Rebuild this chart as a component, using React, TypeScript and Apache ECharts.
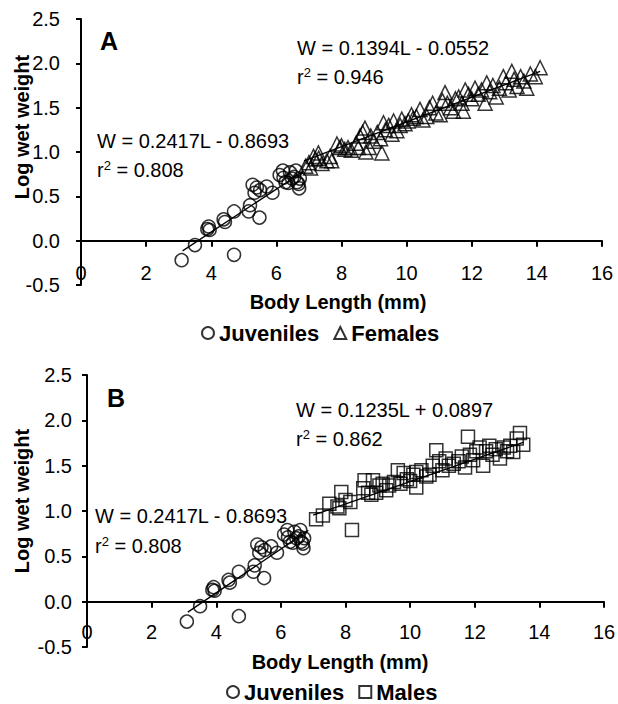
import React, { useEffect, useRef } from "react";
import * as echarts from "echarts";

// Body length (mm), log wet weight
const juveniles: number[][] = [
  [3.09, -0.22], [3.5, -0.05], [3.88, 0.13], [3.92, 0.16], [3.95, 0.12],
  [4.38, 0.24], [4.42, 0.21], [4.7, 0.33], [4.7, -0.16], [5.15, 0.33],
  [5.19, 0.4], [5.27, 0.63], [5.33, 0.54], [5.4, 0.6], [5.48, 0.26],
  [5.5, 0.57], [5.7, 0.61], [5.88, 0.54], [6.1, 0.74], [6.2, 0.79],
  [6.22, 0.71], [6.28, 0.66], [6.37, 0.65], [6.42, 0.77], [6.48, 0.7],
  [6.55, 0.72], [6.6, 0.79], [6.63, 0.66], [6.68, 0.64], [6.7, 0.59],
  [6.72, 0.7],
];

const females: number[][] = [
  [6.9, 0.84], [7.0, 0.88], [7.05, 0.82], [7.14, 0.95], [7.2, 0.92],
  [7.29, 0.99], [7.3, 0.93], [7.4, 0.87], [7.55, 0.9], [7.65, 0.95],
  [7.7, 0.9], [7.86, 1.09], [7.95, 1.05], [8.0, 1.07], [8.1, 1.03],
  [8.2, 1.05], [8.3, 1.02], [8.45, 1.1], [8.52, 1.05], [8.57, 1.18],
  [8.65, 1.22], [8.72, 1.27], [8.75, 1.0], [8.85, 1.05], [8.9, 1.18],
  [9.0, 1.12], [9.1, 1.22], [9.2, 1.15], [9.24, 0.99], [9.29, 1.33],
  [9.35, 1.25], [9.45, 1.3], [9.55, 1.2], [9.6, 1.35], [9.7, 1.24],
  [9.8, 1.3], [9.85, 1.37], [9.95, 1.32], [10.05, 1.35], [10.15, 1.42],
  [10.2, 1.38], [10.3, 1.4], [10.41, 1.48], [10.5, 1.36], [10.62, 1.4],
  [10.7, 1.5], [10.8, 1.55], [10.9, 1.44], [11.03, 1.42], [11.1, 1.58],
  [11.18, 1.67], [11.25, 1.55], [11.35, 1.5], [11.44, 1.46], [11.5, 1.6],
  [11.6, 1.62], [11.7, 1.55], [11.74, 1.46], [11.8, 1.7], [11.9, 1.65],
  [12.0, 1.6], [12.1, 1.72], [12.2, 1.65], [12.3, 1.7], [12.41, 1.55],
  [12.46, 1.78], [12.55, 1.68], [12.65, 1.75], [12.75, 1.62], [12.85, 1.72],
  [12.97, 1.85], [13.05, 1.78], [13.15, 1.7], [13.23, 1.91], [13.3, 1.82],
  [13.39, 1.74], [13.5, 1.85], [13.6, 1.8], [13.69, 1.72], [13.8, 1.88],
  [13.95, 1.85], [14.1, 1.95],
];

const males: number[][] = [
  [7.09, 0.91], [7.3, 0.95], [7.5, 1.08], [7.75, 1.05], [7.81, 1.03],
  [7.87, 1.21], [8.0, 1.12], [8.15, 1.1], [8.2, 0.79], [8.55, 1.25],
  [8.59, 1.34], [8.7, 1.2], [8.8, 1.18], [8.85, 1.34], [8.95, 1.2],
  [9.05, 1.28], [9.15, 1.3], [9.26, 1.23], [9.35, 1.28], [9.5, 1.32],
  [9.62, 1.45], [9.7, 1.3], [9.8, 1.42], [9.9, 1.35], [10.0, 1.33],
  [10.1, 1.4], [10.19, 1.43], [10.19, 1.26], [10.35, 1.45], [10.5, 1.38],
  [10.6, 1.4], [10.7, 1.5], [10.81, 1.67], [10.9, 1.55], [11.0, 1.45],
  [11.1, 1.58], [11.2, 1.5], [11.35, 1.52], [11.5, 1.55], [11.6, 1.6],
  [11.7, 1.48], [11.79, 1.82], [11.85, 1.62], [11.95, 1.56], [12.05, 1.66],
  [12.15, 1.7], [12.26, 1.5], [12.35, 1.66], [12.45, 1.72], [12.55, 1.62],
  [12.65, 1.68], [12.78, 1.58], [12.9, 1.7], [13.0, 1.66], [13.1, 1.72],
  [13.19, 1.65], [13.3, 1.8], [13.4, 1.86], [13.5, 1.73],
];

// regression: [slope, intercept], range: [from, to]
const juvenileFit = [0.2417, -0.8693];
const juvenileRange = [3.12, 6.85];
const femaleFit = [0.1394, -0.0552];
const femaleRange = [6.85, 14.1];
const maleFit = [0.1235, 0.0897];
const maleRange = [7.0, 13.5];

const equationJuv = "W = 0.2417L - 0.8693";
const r2Juv = "0.808";
const equationFem = "W = 0.1394L - 0.0552";
const r2Fem = "0.946";
const equationMale = "W = 0.1235L + 0.0897";
const r2Male = "0.862";

const FONT = "Liberation Sans, Arial, Helvetica, sans-serif";

function fitLine(fit: number[], range: number[]) {
  return range.map((x) => [x, fit[0] * x + fit[1]]);
}

function App() {
  const ref = useRef<HTMLDivElement>(null);
  useEffect(() => {
    if (!ref.current) return;
    const chart = echarts.init(ref.current, null, { renderer: "svg" });

    const markerStyle = {
      color: "rgba(0,0,0,0)",
      borderColor: "#000",
      borderWidth: 1.5,
    };

    // x axis is moved up to the y = 0 line via a negative offset
    const xAxisBase = (gridIndex: number, margin: number, offset: number) => ({
      type: "value",
      gridIndex,
      min: 0,
      max: 16,
      interval: 2,
      position: "bottom",
      offset,
      axisLine: { onZero: false, lineStyle: { color: "#000", width: 2 } },
      axisTick: { length: 6, lineStyle: { color: "#000", width: 2 } },
      axisLabel: { fontSize: 20, fontFamily: FONT, color: "#000", margin },
      splitLine: { show: false },
    });
    const yAxisBase = (gridIndex: number, margin: number) => ({
      type: "value",
      gridIndex,
      min: -0.5,
      max: 2.5,
      interval: 0.5,
      axisLine: { show: true, onZero: false, lineStyle: { color: "#000", width: 2 } },
      axisTick: { show: true, length: 5, lineStyle: { color: "#000", width: 2 } },
      axisLabel: {
        fontSize: 20,
        fontFamily: FONT,
        color: "#000",
        margin,
        formatter: (v: number) => v.toFixed(1),
      },
      splitLine: { show: false },
    });

    const text = (x: number, y: number, t: string, extra: any = {}) => ({
      type: "text",
      x,
      y,
      style: {
        text: t,
        fontSize: 20,
        fontFamily: FONT,
        fill: "#000",
        align: "left",
        verticalAlign: "middle",
        ...extra,
      },
    });
    const r2Text = (x: number, y: number, val: string) => ({
      type: "text",
      x,
      y,
      style: {
        text: "{r|r}{s|2}{r| = " + val + "}",
        fontFamily: FONT,
        fill: "#000",
        align: "left",
        verticalAlign: "middle",
        rich: {
          r: { fontSize: 20, fontFamily: FONT, fill: "#000", lineHeight: 22 },
          s: { fontSize: 13, fontFamily: FONT, fill: "#000", verticalAlign: "top", lineHeight: 22 },
        },
      },
    });

    const gridA = { top: 19, height: 266 };
    const gridB = { top: 375, height: 272 };
    // pixel distance from grid bottom (y = -0.5) to y = 0
    const zeroOffsetA = -(gridA.height * 0.5) / 3;
    const zeroOffsetB = -(gridB.height * 0.5) / 3;

    const legendBase = {
      itemWidth: 12,
      itemHeight: 12,
      itemGap: 14,
      textStyle: { fontSize: 22, fontWeight: "bold", fontFamily: FONT, color: "#000" },
      selectedMode: false,
    };

    const option: any = {
      animation: false,
      backgroundColor: "#fff",
      textStyle: { fontFamily: FONT },
      grid: [
        { left: 81, top: gridA.top, width: 521, height: gridA.height, containLabel: false, outerBoundsMode: "none" },
        { left: 87, top: gridB.top, width: 517, height: gridB.height, containLabel: false, outerBoundsMode: "none" },
      ],
      xAxis: [xAxisBase(0, 22, zeroOffsetA), xAxisBase(1, 20, zeroOffsetB)],
      yAxis: [yAxisBase(0, 21), yAxisBase(1, 15)],
      legend: [
        { ...legendBase, data: ["Juveniles", "Females"], left: 196, top: 317 },
        { ...legendBase, data: ["Juveniles", "Males"], left: 221, top: 676 },
      ],
      series: [
        {
          name: "Juveniles",
          type: "scatter",
          xAxisIndex: 0,
          yAxisIndex: 0,
          symbol: "circle",
          symbolSize: 13,
          itemStyle: markerStyle,
          data: juveniles,
        },
        {
          name: "Females",
          type: "scatter",
          xAxisIndex: 0,
          yAxisIndex: 0,
          symbol: "triangle",
          symbolSize: 14,
          itemStyle: markerStyle,
          data: females,
        },
        {
          name: "Juveniles",
          type: "scatter",
          xAxisIndex: 1,
          yAxisIndex: 1,
          symbol: "circle",
          symbolSize: 13,
          itemStyle: markerStyle,
          data: juveniles,
        },
        {
          name: "Males",
          type: "scatter",
          xAxisIndex: 1,
          yAxisIndex: 1,
          symbol: "rect",
          symbolSize: 13,
          itemStyle: markerStyle,
          data: males,
        },
        {
          name: "fitJuvA",
          type: "line",
          xAxisIndex: 0,
          yAxisIndex: 0,
          symbol: "none",
          lineStyle: { color: "#000", width: 1.3 },
          data: fitLine(juvenileFit, juvenileRange),
        },
        {
          name: "fitFem",
          type: "line",
          xAxisIndex: 0,
          yAxisIndex: 0,
          symbol: "none",
          lineStyle: { color: "#000", width: 1.3 },
          data: fitLine(femaleFit, femaleRange),
        },
        {
          name: "fitJuvB",
          type: "line",
          xAxisIndex: 1,
          yAxisIndex: 1,
          symbol: "none",
          lineStyle: { color: "#000", width: 1.3 },
          data: fitLine(juvenileFit, juvenileRange),
        },
        {
          name: "fitMale",
          type: "line",
          xAxisIndex: 1,
          yAxisIndex: 1,
          symbol: "none",
          lineStyle: { color: "#000", width: 1.3 },
          data: fitLine(maleFit, maleRange),
        },
      ],
      graphic: [
        text(100, 41, "A", { fontSize: 25, fontWeight: "bold" }),
        text(107, 398, "B", { fontSize: 25, fontWeight: "bold" }),
        text(338, 302, "Body Length (mm)", { fontWeight: "bold", align: "center" }),
        text(340, 662, "Body Length (mm)", { fontWeight: "bold", align: "center" }),
        text(97, 141, equationJuv),
        r2Text(97, 170, r2Juv),
        text(297, 48, equationFem),
        r2Text(297, 77, r2Fem),
        text(296, 410, equationMale),
        r2Text(296, 439, r2Male),
        text(95, 516, equationJuv),
        r2Text(95, 546, r2Juv),
        { ...text(22, 127, "Log wet weight", { fontWeight: "bold", align: "center" }), rotation: Math.PI / 2 },
        { ...text(22, 501, "Log wet weight", { fontWeight: "bold", align: "center" }), rotation: Math.PI / 2 },
      ],
    };
    chart.setOption(option);
    return () => chart.dispose();
  }, []);
  return (
    <div
      ref={ref}
      style={{ position: "absolute", left: 0, top: 0, width: 618, height: 704 }}
    />
  );
}

export default App;
